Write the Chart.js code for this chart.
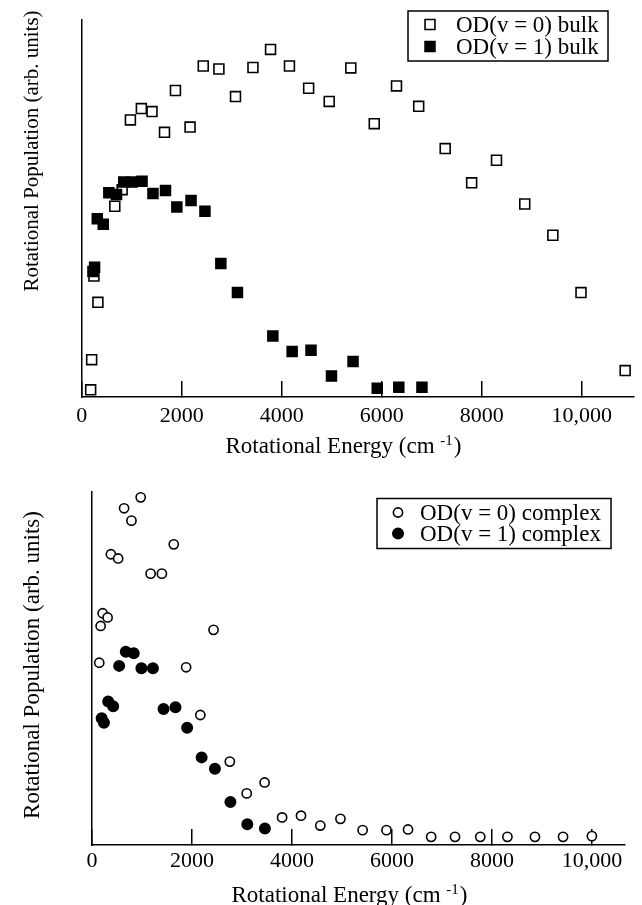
<!DOCTYPE html>
<html><head><meta charset="utf-8">
<script src="https://cdn.jsdelivr.net/npm/chart.js@4/dist/chart.umd.min.js"></script>
<style>
html,body{margin:0;padding:0;background:#fff;}
#wrap{position:relative;width:642px;height:905px;overflow:hidden;}
canvas{position:absolute;left:0;}
</style></head><body>
<div id="wrap">
<canvas id="topChart" width="642" height="460" style="top:0"></canvas>
<canvas id="botChart" width="642" height="445" style="top:460px"></canvas>
</div>
<script>
// ---------- data ----------
const xTickValues = [0, 2000, 4000, 6000, 8000, 10000];
const xTickLabels = ['0', '2000', '4000', '6000', '8000', '10,000'];

const bulkV0Energy = [179,199,245,324,662,809,974,1193,1406,1656,1875,2167,2431,2744,3076,3425,3777,4155,4539,4950,5382,5851,6296,6740,7270,7799,8296,8861,9423,9986,10869];
const bulkV0Pop    = [1.9,9.9,32.1,25.1,50.6,55.0,73.5,76.5,75.7,70.2,81.3,71.6,87.8,87.0,79.7,87.4,92.2,87.8,81.9,78.4,87.3,72.5,82.5,77.1,65.9,56.8,62.8,51.2,42.9,27.7,7.0];

const bulkV1Energy = [225,258,312,431,543,696,841,1008,1207,1425,1676,1903,2187,2465,2783,3115,3823,4209,4586,4996,5427,5911,6342,6805];
const bulkV1Pop    = [33.3,34.4,47.3,45.8,54.2,53.7,57.0,57.0,57.2,54.0,54.8,50.4,52.1,49.3,35.4,27.7,16.2,12.1,12.4,5.6,9.4,2.3,2.6,2.6];

const complexV0Energy = [145,173,213,312,378,523,642,789,974,1173,1398,1636,1883,2167,2431,2757,3095,3453,3803,4181,4567,4970,5414,5891,6322,6785,7262,7767,8310,8861,9423,10000];
const complexV0Pop    = [51.6,62.0,65.6,64.4,82.3,81.1,95.3,91.8,98.4,76.8,76.8,85.1,50.3,36.8,60.9,23.6,14.6,17.7,7.8,8.3,5.5,7.4,4.2,4.2,4.4,2.3,2.3,2.3,2.3,2.3,2.3,2.5];

const complexV1Energy = [193,239,324,423,543,676,835,988,1219,1431,1670,1903,2193,2459,2769,3107,3459];
const complexV1Pop    = [35.9,34.6,40.6,39.3,50.7,54.7,54.3,50.0,50.0,38.5,39.0,33.2,24.8,21.6,12.2,5.9,4.7];

const seriesLabels = ['OD(v = 0) bulk', 'OD(v = 1) bulk', 'OD(v = 0) complex', 'OD(v = 1) complex'];
const yTitle = 'Rotational Population (arb. units)';
const xTitleMain = 'Rotational Energy (cm ';
const xTitleSup = '-1';
const xTitleEnd = ')';

// ---------- helpers ----------
const FAMILY = '"Liberation Serif", "Times New Roman", serif';
const pts = (xs, ys) => xs.map((x, i) => ({x: x, y: ys[i]}));

function drawMarker(ctx, style, r, fill, bw, x, y) {
  ctx.save();
  ctx.fillStyle = fill; ctx.strokeStyle = '#000'; ctx.lineWidth = bw;
  if (window.Chart && Chart.helpers && Chart.helpers.drawPoint) {
    Chart.helpers.drawPoint(ctx, {pointStyle: style, radius: r, borderWidth: bw, rotation: 0}, x, y);
  }
  ctx.restore();
}

function decorPlugin(o) {
  return {
    id: 'decor',
    afterDraw(chart) {
      const ctx = chart.ctx;
      ctx.save();
      ctx.fillStyle = '#000';
      // y title
      ctx.save();
      ctx.font = o.yTitleSize + 'px ' + FAMILY;
      ctx.translate(o.yTitleX, o.yTitleY);
      ctx.rotate(-Math.PI / 2);
      ctx.textAlign = 'center'; ctx.textBaseline = 'middle';
      ctx.fillText(yTitle, 0, 0);
      ctx.restore();
      // x title with superscript
      ctx.textBaseline = 'alphabetic'; ctx.textAlign = 'left';
      ctx.font = '23px ' + FAMILY;
      const w1 = ctx.measureText(xTitleMain).width;
      const w3 = ctx.measureText(xTitleEnd).width;
      ctx.font = '15px ' + FAMILY;
      const w2 = ctx.measureText(xTitleSup).width;
      let x0 = o.xTitleX - (w1 + w2 + w3) / 2;
      const base = o.xTitleY + 7;
      ctx.font = '23px ' + FAMILY;
      ctx.fillText(xTitleMain, x0, base);
      ctx.font = '15px ' + FAMILY;
      ctx.fillText(xTitleSup, x0 + w1, base - 8);
      ctx.font = '23px ' + FAMILY;
      ctx.fillText(xTitleEnd, x0 + w1 + w2 + 1, base);
      // legend
      const L = o.legend;
      ctx.strokeStyle = '#000'; ctx.lineWidth = 1.5;
      ctx.strokeRect(L.x, L.y, L.w, L.h);
      ctx.font = '23px ' + FAMILY;
      ctx.textBaseline = 'middle'; ctx.textAlign = 'left';
      chart.data.datasets.forEach((ds, i) => {
        const ry = L.rows[i];
        drawMarker(ctx, ds.pointStyle, L.radius[i], ds.pointBackgroundColor, ds.pointBorderWidth, L.markerX, ry);
        ctx.fillStyle = '#000';
        ctx.fillText(ds.label, L.textX, ry + 1);
      });
      ctx.restore();
    }
  };
}

function makeChart(id, cfg) {
  return new Chart(document.getElementById(id), {
    type: 'scatter',
    data: {datasets: cfg.datasets},
    options: {
      responsive: false, animation: false, devicePixelRatio: 1,
      layout: {padding: cfg.padding},
      plugins: {legend: {display: false}, tooltip: {enabled: false}},
      scales: {
        x: {
          type: 'linear', min: 0, max: cfg.xMax,
          afterBuildTicks: s => { s.ticks = xTickValues.map(v => ({value: v})); },
          afterFit: s => { s.height = cfg.xAxisH; },
          ticks: {
            callback: (v, i) => xTickLabels[i],
            font: {family: FAMILY, size: 22}, color: '#000',
            padding: cfg.tickPad, maxRotation: 0, autoSkip: false, includeBounds: false
          },
          grid: {drawOnChartArea: false, drawTicks: true, tickLength: -16, color: '#000', lineWidth: 1.5},
          border: {display: true, color: '#000', width: 1.5}
        },
        y: {
          min: 0, max: 100,
          afterFit: s => { s.width = 0; },
          ticks: {display: false},
          grid: {drawOnChartArea: false, drawTicks: false},
          border: {display: true, color: '#000', width: 1.5}
        }
      }
    },
    plugins: [decorPlugin(cfg.decor)]
  });
}

function ds(label, data, style, r, fill, order) {
  return {
    label: label, data: data, pointStyle: style, pointRadius: r, pointHoverRadius: r,
    pointBackgroundColor: fill, pointBorderColor: '#000', pointBorderWidth: 1.6,
    showLine: false, clip: false, order: order
  };
}

makeChart('topChart', {
  datasets: [
    ds(seriesLabels[0], pts(bulkV0Energy, bulkV0Pop), 'rect', 7, '#fff', 2),
    ds(seriesLabels[1], pts(bulkV1Energy, bulkV1Pop), 'rect', 7, '#000', 1)
  ],
  xMax: 11034, xAxisH: 63, tickPad: 22,
  padding: {left: 81.7, right: 5.3, top: 20, bottom: 0},
  decor: {
    yTitleSize: 21, yTitleX: 32, yTitleY: 151, xTitleX: 343, xTitleY: 446,
    legend: {x: 408, y: 11, w: 200, h: 50, rows: [24.5, 46.5], markerX: 430, textX: 456, radius: [7, 7]}
  }
});

makeChart('botChart', {
  datasets: [
    ds(seriesLabels[2], pts(complexV0Energy, complexV0Pop), 'circle', 4.6, '#fff', 2),
    ds(seriesLabels[3], pts(complexV1Energy, complexV1Pop), 'circle', 5.2, '#000', 1)
  ],
  xMax: 10656, xAxisH: 60, tickPad: 19,
  padding: {left: 92, right: 14, top: 31.7, bottom: 0},
  decor: {
    yTitleSize: 23, yTitleX: 33, yTitleY: 205, xTitleX: 349, xTitleY: 435,
    legend: {x: 377, y: 38.5, w: 234, h: 50, rows: [52.5, 73.5], markerX: 398, textX: 420, radius: [4.6, 5.2]}
  }
});
</script>
</body></html>
